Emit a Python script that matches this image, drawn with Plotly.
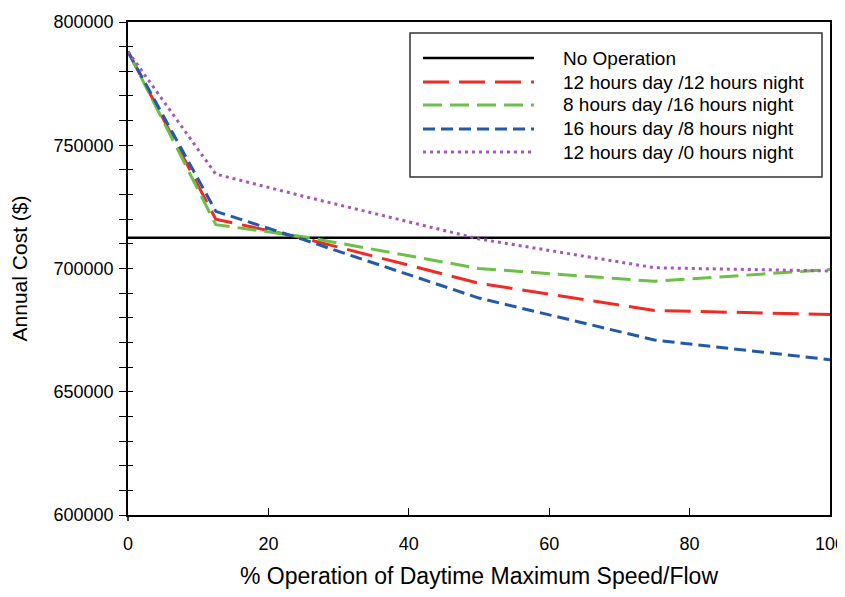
import plotly.graph_objects as go

# ---- data ----
x_pct = [0, 12.5, 25, 50, 75, 100]
no_operation = [712500, 712500, 712500, 712500, 712500, 712500]
h12_12 = [788000, 720000, 712300, 694000, 683000, 681300]
h8_16 = [788000, 717800, 712900, 700000, 694800, 699600]
h16_8 = [788000, 723200, 711700, 688000, 671000, 663000]
h12_0 = [788000, 738300, 729300, 712000, 700300, 699000]

names = ["No Operation", "12 hours day /12 hours night", "8 hours day /16 hours night",
         "16 hours day /8 hours night", "12 hours day /0 hours night"]
series = [no_operation, h12_12, h8_16, h16_8, h12_0]
colors = ["#000000", "#EE2B25", "#6CBF47", "#2458A8", "#A556B8"]
dashes = ["solid", "26px,10px", "19px,8px", "12px,6px", "3px,4px"]
widths = [2.4, 3, 3, 3, 3]

x_ticks = [0, 20, 40, 60, 80, 100]
y_ticks = [600000, 650000, 700000, 750000, 800000]

OFF = 8  # page body margin
W, H = 845 - OFF, 597 - 2 * OFF
L, R, T, B = 120, 15, 14, 74
pw, ph = W - L - R, H - T - B

def px2x(px):
    return (px - OFF - L) / pw

def px2y(py):
    return (H - B - (py - OFF)) / ph

fig = go.Figure()
for nm, s, c, d, w in zip(names, series, colors, dashes, widths):
    fig.add_trace(go.Scatter(x=x_pct, y=s, mode="lines", name=nm,
                             line=dict(color=c, dash=d, width=w), showlegend=False))
# helper axis for the inner half of crossing y ticks
fig.add_trace(go.Scatter(x=[], y=[], yaxis="y2", showlegend=False, hoverinfo="skip"))

font = "Arial, Liberation Sans, sans-serif"
fig.update_layout(
    width=W, height=H,
    margin=dict(l=L, r=R, t=T, b=B, autoexpand=False),
    plot_bgcolor="white", paper_bgcolor="white",
    font=dict(family=font, color="black", size=18),
    xaxis=dict(range=[0, 100], tickvals=x_ticks, ticks="inside", ticklen=7,
               tickwidth=1.2, tickcolor="black", showline=True, linecolor="black",
               linewidth=1.5, mirror=True, showgrid=False, zeroline=False,
               automargin=True, ticklabeloverflow="allow",
               ticklabelstandoff=12, tickfont=dict(size=18),
               title=dict(text="% Operation of Daytime Maximum Speed/Flow",
                          font=dict(size=23), standoff=16)),
    yaxis=dict(range=[600000, 800000], tickvals=y_ticks, ticks="outside", ticklen=7,
               tickwidth=1.2, tickcolor="black", showline=True, linecolor="black",
               linewidth=1.5, mirror=True, showgrid=False, zeroline=False,
               automargin=False, ticklabelstandoff=2,
               tickformat="d", tickfont=dict(size=18),
               minor=dict(dtick=10000, ticks="outside", ticklen=7, tickwidth=1.2,
                          tickcolor="black", showgrid=False),
               title=dict(text="Annual Cost ($)", font=dict(size=21), standoff=20)),
    yaxis2=dict(range=[600000, 800000], overlaying="y", side="left", tickvals=y_ticks,
                ticks="inside", ticklen=5, tickwidth=1.2, tickcolor="black",
                showticklabels=False, showline=False, showgrid=False, zeroline=False,
                automargin=False,
                minor=dict(dtick=10000, ticks="inside", ticklen=5, tickwidth=1.2,
                           tickcolor="black", showgrid=False)),
)

# y-axis line extends a little below the x axis, as in the reference
fig.add_shape(type="line", xref="paper", yref="paper", x0=0, x1=0,
              y0=px2y(515 + 6), y1=0, line=dict(color="black", width=1.5))

# manual legend (long line samples as in the reference)
bx0, bx1, by0, by1 = 410, 822, 33, 177
fig.add_shape(type="rect", xref="paper", yref="paper",
              x0=px2x(bx0), x1=px2x(bx1), y0=px2y(by1), y1=px2y(by0),
              line=dict(color="#333333", width=1.5), fillcolor="white", layer="above")
row_y = [58, 82, 105, 129, 152]
for nm, c, d, w, ry in zip(names, colors, dashes, widths, row_y):
    fig.add_shape(type="line", xref="paper", yref="paper",
                  x0=px2x(423), x1=px2x(534), y0=px2y(ry), y1=px2y(ry),
                  line=dict(color=c, dash=d, width=w), layer="above")
    fig.add_annotation(xref="paper", yref="paper", x=px2x(561), y=px2y(ry),
                       text=nm, showarrow=False, xanchor="left", yanchor="middle",
                       font=dict(size=19, family=font, color="black"))

fig.write_html("out.html")
